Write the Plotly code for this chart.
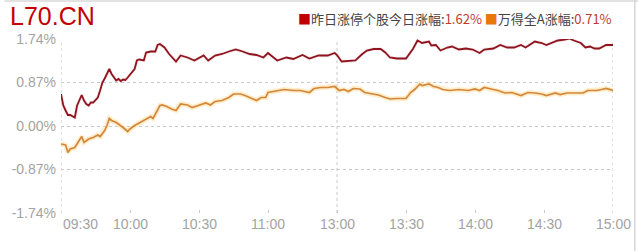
import plotly.graph_objects as go

# ---------------- data ----------------
red_times = ["09:30","09:31","09:32","09:33","09:34","09:36","09:37","09:39","09:40","09:41",
             "09:42","09:43","09:44","09:46","09:47","09:48","09:49","09:51","09:52","09:54",
             "09:55","09:56","09:57","09:58","09:59","10:01","10:02","10:03","10:04","10:06",
             "10:07","10:09","10:11","10:12","10:13","10:15","10:17","10:20","10:22","10:25",
             "10:28","10:32","10:34","10:37","10:40","10:43","10:46","10:49","10:52","10:55",
             "10:58","11:00","11:04","11:08","11:11","11:15","11:18","11:22","11:26","11:29",
             "11:30","13:02","13:05","13:08","13:11","13:13","13:16","13:19","13:21","13:23",
             "13:26","13:30","13:33","13:35","13:37","13:40","13:41","13:43","13:45","13:48",
             "13:50","13:53","13:56","13:59","14:02","14:04","14:08","14:11","14:14","14:17",
             "14:20","14:22","14:26","14:29","14:31","14:34","14:36","14:39","14:41","14:43",
             "14:46","14:48","14:50","14:52","14:54","14:57","15:00"]
red_values = [0.64,0.41,0.31,0.22,0.22,0.17,0.41,0.62,0.51,0.44,
              0.41,0.47,0.47,0.57,0.71,0.87,0.95,1.14,1.04,0.91,
              0.94,0.90,0.93,0.92,0.97,1.10,1.14,1.31,1.33,1.31,
              1.47,1.49,1.49,1.62,1.64,1.57,1.44,1.29,1.41,1.37,
              1.31,1.41,1.31,1.41,1.44,1.49,1.53,1.49,1.44,1.42,
              1.37,1.46,1.31,1.37,1.34,1.42,1.35,1.41,1.41,1.46,
              1.42,1.29,1.30,1.31,1.44,1.51,1.54,1.54,1.47,1.37,
              1.35,1.35,1.54,1.71,1.66,1.69,1.61,1.62,1.51,1.57,
              1.59,1.53,1.55,1.53,1.46,1.53,1.55,1.62,1.57,1.57,
              1.62,1.57,1.69,1.66,1.62,1.67,1.71,1.73,1.75,1.71,
              1.66,1.57,1.59,1.55,1.55,1.62,1.62]

orange_times = ["09:30","09:32","09:33","09:34","09:36","09:37","09:39","09:40","09:42","09:44",
                "09:46","09:47","09:49","09:50","09:51","09:52","09:54","09:57","09:59","10:00",
                "10:02","10:04","10:07","10:09","10:10","10:12","10:13","10:14","10:16","10:18",
                "10:20","10:22","10:25","10:27","10:30","10:33","10:35","10:37","10:40","10:43",
                "10:45","10:48","10:50","10:53","10:55","10:57","10:59","11:00","11:03","11:07",
                "11:11","11:14","11:18","11:20","11:23","11:26","11:29","13:01","13:03","13:05",
                "13:07","13:10","13:12","13:15","13:18","13:21","13:23","13:26","13:30","13:32",
                "13:34","13:36","13:37","13:40","13:42","13:44","13:46","13:49","13:53","13:57",
                "14:00","14:02","14:04","14:07","14:10","14:13","14:16","14:20","14:23","14:26",
                "14:29","14:31","14:34","14:35","14:37","14:40","14:44","14:47","14:49","14:53",
                "14:55","14:57","15:00"]
orange_values = [-0.36,-0.38,-0.53,-0.46,-0.43,-0.36,-0.21,-0.33,-0.26,-0.23,
                 -0.18,-0.21,-0.09,0.01,0.15,0.11,0.07,-0.03,-0.11,-0.06,
                 0.01,0.06,0.14,0.19,0.15,0.31,0.41,0.42,0.39,0.34,
                 0.31,0.44,0.42,0.37,0.41,0.46,0.42,0.49,0.51,0.57,
                 0.64,0.64,0.61,0.54,0.51,0.57,0.57,0.67,0.69,0.73,
                 0.71,0.71,0.67,0.75,0.77,0.77,0.79,0.71,0.73,0.69,
                 0.75,0.74,0.67,0.64,0.62,0.57,0.54,0.55,0.55,0.67,
                 0.74,0.84,0.81,0.84,0.79,0.77,0.73,0.71,0.73,0.71,
                 0.74,0.71,0.77,0.74,0.71,0.66,0.67,0.61,0.67,0.66,
                 0.64,0.61,0.64,0.66,0.63,0.66,0.66,0.66,0.71,0.71,
                 0.73,0.75,0.71]

x_tick_labels = ["09:30","10:00","10:30","11:00","13:00","13:30","14:00","14:30","15:00"]
y_tick_values = [-1.74, -0.87, 0.0, 0.87, 1.74]
y_tick_labels = ["-1.74%", "-0.87%", "0.00%", "0.87%", "1.74%"]

series_names = ["昨日涨停个股今日涨幅", "万得全A涨幅"]
last_values = ["1.62%", "0.71%"]
title_text = "L70.CN"


def session_minute(t):
    h, m = map(int, t.split(":"))
    mins = h * 60 + m
    if mins <= 11 * 60 + 30:
        return mins - (9 * 60 + 30)
    return 120 + mins - 13 * 60


red_x = [session_minute(t) for t in red_times]
orange_x = [session_minute(t) for t in orange_times]
tick_x = [session_minute(t) for t in x_tick_labels]

FONT = "Noto Sans CJK SC, Microsoft YaHei, sans-serif"
NUMFONT = "Liberation Sans, Arial, sans-serif"
GRAY = "#a3a3a3"
GRID = "#c8c8c8"

fig = go.Figure()
# glow under orange line
fig.add_trace(go.Scatter(x=orange_x, y=orange_values, mode="lines",
                         line=dict(color="rgba(255,215,140,0.45)", width=5),
                         hoverinfo="skip", showlegend=False))
fig.add_trace(go.Scatter(x=orange_x, y=orange_values, mode="lines",
                         line=dict(color="#d4873a", width=1.7),
                         name=series_names[1], showlegend=False))
fig.add_trace(go.Scatter(x=red_x, y=red_values, mode="lines",
                         line=dict(color="rgba(200,120,120,0.15)", width=3.5),
                         hoverinfo="skip", showlegend=False))
fig.add_trace(go.Scatter(x=red_x, y=red_values, mode="lines",
                         line=dict(color="#8e1420", width=1.8),
                         name=series_names[0], showlegend=False))

W, H = 638, 251
L, R, T, B = 57, 25, 39, 38
pw, ph = W - L - R, H - T - B


def px_x(p):
    return (p - L) / pw


def px_y(p):
    return (H - B - p) / ph


annotations = []
for i, (tx, lab) in enumerate(zip(tick_x, x_tick_labels)):
    annotations.append(dict(x=tx, y=px_y(224), xref="x", yref="paper", text=lab,
                            showarrow=False, xanchor="left" if i == 0 else "center",
                            yanchor="middle", font=dict(family=NUMFONT, size=14, color=GRAY)))

annotations.append(dict(x=px_x(4), y=px_y(0), xref="paper", yref="paper", text=title_text,
                        showarrow=False, xanchor="left", yanchor="top",
                        font=dict(family="Liberation Sans, Arial, sans-serif", size=25, color="#c40000")))

legend_text = (
    "<span style='color:#c00000'>■</span>" + series_names[0] + ":" +
    "<span style='color:#c0392b'>" + last_values[0] + "</span> " +
    "<span style='color:#e8780c'>■</span>" + series_names[1] + ":" +
    "<span style='color:#c0392b'>" + last_values[1] + "</span>"
)
annotations.append(dict(x=px_x(614), y=px_y(18), xref="paper", yref="paper", text=legend_text,
                        showarrow=False, xanchor="right", yanchor="middle",
                        font=dict(family=FONT, size=13, color="#444444")))

shapes = []
for vx in [0, 120, 240]:
    shapes.append(dict(type="line", xref="x", yref="y", x0=vx, x1=vx, y0=-1.74, y1=1.74,
                       line=dict(color=GRID, width=1, dash="dot"), layer="below"))
# outer frame lines of the picture
shapes.append(dict(type="line", xref="paper", yref="paper", x0=px_x(0), x1=px_x(638),
                   y0=px_y(1), y1=px_y(1), line=dict(color="#e2e2e2", width=2)))
shapes.append(dict(type="line", xref="paper", yref="paper", x0=px_x(635), x1=px_x(635),
                   y0=px_y(0), y1=px_y(251), line=dict(color="#d6d6d6", width=1.5)))

fig.update_layout(
    width=W, height=H,
    margin=dict(l=L, r=R, t=T, b=B, pad=0),
    paper_bgcolor="white", plot_bgcolor="white",
    xaxis=dict(range=[0, 240], tickvals=tick_x, ticktext=["" for _ in tick_x],
               showgrid=False, zeroline=False, showline=False,
               ticks="inside", ticklen=3, tickcolor=GRID, tickwidth=1, fixedrange=True),
    yaxis=dict(range=[-1.74, 1.74], tickvals=y_tick_values, ticktext=y_tick_labels,
               showgrid=True, gridcolor=GRID, griddash="dot", gridwidth=1,
               zeroline=False, showline=False, ticks="", ticklabelstandoff=4,
               tickfont=dict(family=NUMFONT, size=14, color=GRAY), fixedrange=True),
    annotations=annotations,
    shapes=shapes,
    showlegend=False,
)

fig.write_html("out.html")
